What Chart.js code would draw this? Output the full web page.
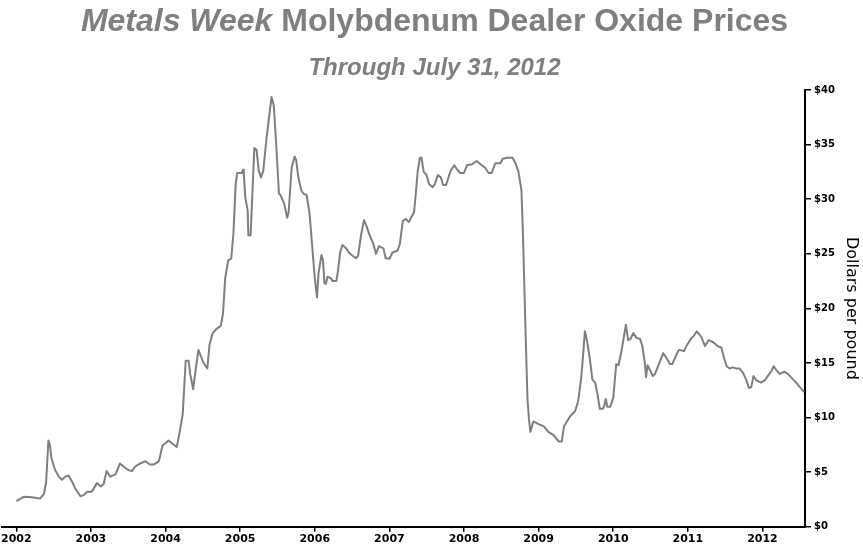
<!DOCTYPE html>
<html>
<head>
<meta charset="utf-8">
<script src="https://cdn.jsdelivr.net/npm/chart.js@4.4.1/dist/chart.umd.min.js"></script>
<style>
  html, body { margin: 0; padding: 0; background: #fff; }
  #wrap { position: relative; width: 863px; height: 547px; }
  #title, #subtitle {
    position: absolute; left: 3px; width: 863px; text-align: center;
    font-family: 'Liberation Sans', Arial, sans-serif; font-weight: bold; color: #7f7f7f;
    white-space: nowrap;
  }
  #title { top: 2px; font-size: 32px; }
  #subtitle { top: 53px; font-size: 24px; font-style: italic; }
</style>
</head>
<body>
<div id="wrap">
  <canvas id="moChart" width="863" height="547"></canvas>
  <div id="title"><i>Metals Week</i> Molybdenum Dealer Oxide Prices</div>
  <div id="subtitle">Through July 31, 2012</div>
</div>
<script>
// Metals Week dealer oxide price (fractional year, $/lb)
const years = [
  2002.01, 2002.10, 2002.21, 2002.32, 2002.37, 2002.40, 2002.43, 2002.45, 2002.47, 2002.52,
  2002.57, 2002.61, 2002.66, 2002.70, 2002.75, 2002.79, 2002.86, 2002.90, 2002.95, 2003.01,
  2003.08, 2003.13, 2003.17, 2003.21, 2003.26, 2003.33, 2003.39, 2003.44, 2003.50, 2003.55,
  2003.59, 2003.66, 2003.73, 2003.79, 2003.84, 2003.91, 2003.96, 2003.99, 2004.04, 2004.15,
  2004.19, 2004.23, 2004.27, 2004.31, 2004.33, 2004.37, 2004.44, 2004.51, 2004.56, 2004.59,
  2004.63, 2004.68, 2004.74, 2004.77, 2004.80, 2004.84, 2004.88, 2004.91, 2004.94, 2004.96,
  2005.02, 2005.04, 2005.05, 2005.07, 2005.10, 2005.11, 2005.14, 2005.19, 2005.22, 2005.25,
  2005.28, 2005.31, 2005.35, 2005.37, 2005.42, 2005.45, 2005.48, 2005.52, 2005.54, 2005.59,
  2005.63, 2005.65, 2005.69, 2005.73, 2005.75, 2005.78, 2005.82, 2005.85, 2005.89, 2005.93,
  2005.97, 2006.00, 2006.03, 2006.05, 2006.09, 2006.11, 2006.13, 2006.15, 2006.17, 2006.21,
  2006.24, 2006.29, 2006.31, 2006.34, 2006.37, 2006.42, 2006.46, 2006.51, 2006.55, 2006.58,
  2006.62, 2006.66, 2006.69, 2006.73, 2006.78, 2006.82, 2006.86, 2006.92, 2006.95, 2007.00,
  2007.04, 2007.11, 2007.14, 2007.18, 2007.22, 2007.26, 2007.33, 2007.35, 2007.38, 2007.41,
  2007.43, 2007.46, 2007.50, 2007.53, 2007.58, 2007.61, 2007.65, 2007.69, 2007.72, 2007.76,
  2007.82, 2007.87, 2007.91, 2007.95, 2008.00, 2008.04, 2008.11, 2008.17, 2008.22, 2008.28,
  2008.33, 2008.37, 2008.42, 2008.49, 2008.52, 2008.58, 2008.65, 2008.69, 2008.73, 2008.77,
  2008.79, 2008.82, 2008.85, 2008.87, 2008.89, 2008.93, 2009.00, 2009.07, 2009.13,
  2009.20, 2009.27, 2009.31, 2009.34, 2009.42, 2009.49, 2009.53, 2009.57, 2009.59, 2009.62,
  2009.65, 2009.69, 2009.72, 2009.76, 2009.79, 2009.82, 2009.86, 2009.88, 2009.90, 2009.92,
  2009.96, 2010.00, 2010.04, 2010.07, 2010.11, 2010.14, 2010.17, 2010.20, 2010.23, 2010.27,
  2010.31, 2010.36, 2010.39, 2010.42, 2010.44, 2010.46, 2010.50, 2010.53, 2010.56, 2010.60,
  2010.67, 2010.71, 2010.76, 2010.79, 2010.85, 2010.88, 2010.95, 2010.98, 2011.05, 2011.07,
  2011.12, 2011.18, 2011.23, 2011.28, 2011.34, 2011.40, 2011.45, 2011.48, 2011.52, 2011.56,
  2011.60, 2011.65, 2011.69, 2011.74, 2011.78, 2011.82, 2011.85, 2011.88, 2011.92, 2011.98,
  2012.03, 2012.07, 2012.12, 2012.15, 2012.18, 2012.23, 2012.29, 2012.34, 2012.41, 2012.47,
  2012.55
];
const prices = [
  2.4, 2.75, 2.7, 2.6, 3.0, 4.1, 7.9, 7.5, 6.3, 5.2,
  4.6, 4.3, 4.6, 4.7, 4.1, 3.5, 2.8, 2.9, 3.2, 3.2,
  4.0, 3.7, 3.9, 5.1, 4.6, 4.8, 5.8, 5.5, 5.2, 5.1,
  5.5, 5.8, 6.0, 5.7, 5.7, 6.0, 7.45, 7.6, 7.9, 7.3,
  8.7, 10.3, 15.2, 15.2, 14.0, 12.6, 16.2, 15.0, 14.5, 16.7,
  17.7, 18.1, 18.4, 19.5, 22.8, 24.4, 24.55, 26.85, 31.4, 32.4,
  32.4, 32.7, 32.2, 30.1, 29.0, 26.7, 26.7, 34.7, 34.5, 32.6,
  32.0, 32.6, 35.4, 36.5, 39.35, 38.6, 35.4, 30.5, 30.4, 29.6,
  28.3, 28.8, 32.9, 33.9, 33.6, 32.0, 30.8, 30.5, 30.4, 28.7,
  25.3, 22.8, 21.0, 23.2, 24.9, 24.4, 22.3, 22.25, 22.9, 22.8,
  22.5, 22.5, 23.4, 25.1, 25.8, 25.5, 25.1, 24.8, 24.6, 24.8,
  26.7, 28.1, 27.6, 26.8, 26.0, 25.0, 25.7, 25.5, 24.6, 24.55,
  25.1, 25.3, 25.9, 28.0, 28.2, 27.9, 28.8, 30.2, 32.6, 33.8,
  33.8, 32.5, 32.2, 31.4, 31.1, 31.4, 32.2, 32.0, 31.3, 31.3,
  32.6, 33.1, 32.7, 32.4, 32.4, 33.1, 33.2, 33.5, 33.2, 32.9,
  32.4, 32.4, 33.3, 33.3, 33.7, 33.8, 33.8, 33.3, 32.5, 30.8,
  26.85, 19.1, 11.8, 9.9, 8.7, 9.65, 9.4, 9.2, 8.7,
  8.4, 7.8, 7.8, 9.2, 10.1, 10.6, 11.5, 13.6, 15.2, 17.9,
  17.0, 15.2, 13.5, 13.15, 12.1, 10.8, 10.8, 11.1, 11.7, 11.0,
  11.0, 11.8, 14.9, 14.8, 16.1, 17.3, 18.5, 17.1, 17.2, 17.75,
  17.3, 17.2, 16.55, 15.2, 13.7, 14.8, 14.25, 13.8, 14.0, 14.7,
  15.9, 15.5, 14.9, 14.9, 15.8, 16.2, 16.1, 16.55, 17.3, 17.4,
  17.9, 17.4, 16.55, 17.1, 16.9, 16.55, 16.4, 15.6, 14.7, 14.5,
  14.6, 14.5, 14.5, 14.1, 13.5, 12.7, 12.8, 13.8, 13.4, 13.2,
  13.4, 13.8, 14.25, 14.7, 14.4, 14.0, 14.2, 14.0, 13.5, 13.05,
  12.4
];
const yearTicks = [2002, 2003, 2004, 2005, 2006, 2007, 2008, 2009, 2010, 2011, 2012];
const priceTicks = [0, 5, 10, 15, 20, 25, 30, 35, 40];

const ctx = document.getElementById('moChart').getContext('2d');

const points = years.map((yr, i) => ({ x: yr, y: prices[i] }));

const chart = new Chart(ctx, {
    type: 'line',
    data: {
        datasets: [{
            data: points,
            borderColor: '#7f7f7f',
            borderWidth: 2,
            borderJoinStyle: 'round',
            borderCapStyle: 'round',
            pointRadius: 0,
            tension: 0,
            fill: false
        }]
    },
    options: {
        responsive: false,
        animation: false,
        layout: { padding: { top: 90, left: 0, right: 2, bottom: 0 } },
        plugins: {
            legend: { display: false },
            tooltip: { enabled: false }
        },
        scales: {
            x: {
                type: 'linear',
                min: 2001.813,
                max: 2012.57,
                afterBuildTicks: (scale) => {
                    scale.ticks = yearTicks.map(v => ({ value: v }));
                },
                ticks: {
                    color: '#000',
                    font: { family: 'DejaVu Sans', size: 11, weight: 'bold' },
                    padding: 1,
                    maxRotation: 0,
                    callback: (v) => String(v)
                },
                grid: {
                    drawOnChartArea: false,
                    drawTicks: true,
                    tickLength: 5,
                    color: '#000',
                    lineWidth: 1.5
                },
                border: { display: true, color: '#000', width: 2 }
            },
            y: {
                position: 'right',
                min: 0,
                max: 40,
                afterBuildTicks: (scale) => {
                    scale.ticks = priceTicks.map(v => ({ value: v }));
                },
                afterFit: (scale) => { scale.width = 56; },
                ticks: {
                    color: '#000',
                    font: { family: 'DejaVu Sans', size: 10, weight: 'bold' },
                    padding: 3,
                    callback: (v) => '$' + v
                },
                grid: {
                    drawOnChartArea: false,
                    drawTicks: true,
                    tickLength: 6,
                    color: '#000',
                    lineWidth: 1.5
                },
                border: { display: true, color: '#000', width: 2 },
                title: {
                    display: true,
                    text: 'Dollars per pound',
                    color: '#000',
                    font: { family: 'DejaVu Sans', size: 16 },
                    padding: 0
                }
            }
        }
    }
});
</script>
</body>
</html>
